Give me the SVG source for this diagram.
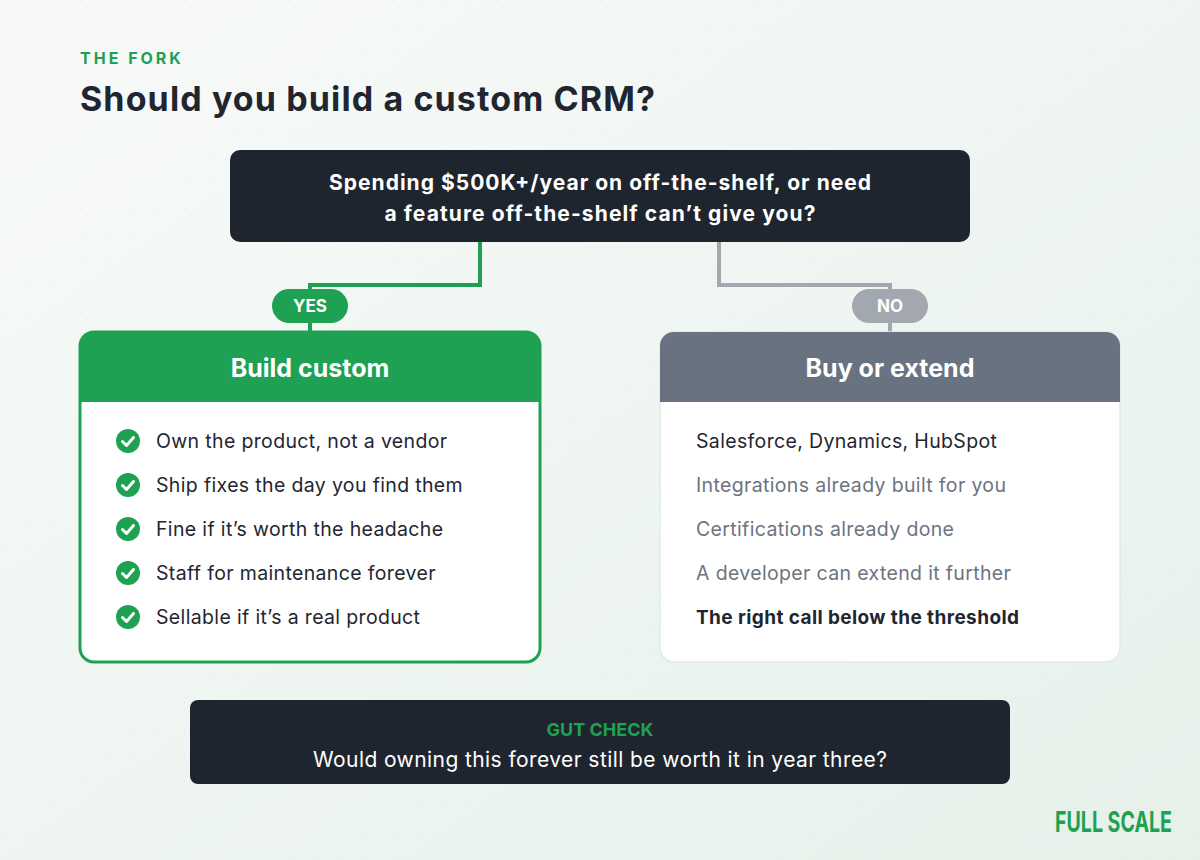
<svg xmlns="http://www.w3.org/2000/svg" width="1200" height="860" viewBox="0 0 1200 860">
<defs>
<linearGradient id="bg" x1="0" y1="0" x2="1" y2="1"><stop offset="0" stop-color="#f8faf9"/><stop offset="1" stop-color="#e6f1ea"/></linearGradient>
<pattern id="dots" x="2" y="0" width="26" height="26" patternUnits="userSpaceOnUse"><circle cx="0" cy="0" r="1.3" fill="#dde5e0"/></pattern>
<clipPath id="cl"><rect x="80" y="332" width="460" height="330" rx="14"/></clipPath>
<clipPath id="cr"><rect x="660" y="332" width="460" height="330" rx="14"/></clipPath>
<g id="chk"><circle r="12" fill="#1ea152"/><path d="M-5.5 0.5 L-1.5 4.5 L5.5 -3.5" fill="none" stroke="#fff" stroke-width="3" stroke-linecap="round" stroke-linejoin="round"/></g>
</defs>
<style>
text{font-family:Inter,"Open Sans","Liberation Sans",sans-serif}
.b{font-weight:700}
.item{font-size:19.5px;fill:#1f2630;letter-spacing:0.35px}
.grey{font-size:19.5px;fill:#6b7480;letter-spacing:0.35px}
</style>
<rect width="1200" height="860" fill="url(#bg)"/>
<rect width="1200" height="860" fill="url(#dots)"/>
<text x="80" y="64" class="b" font-size="16" letter-spacing="3" fill="#1ea152">THE FORK</text>
<text x="80" y="111" class="b" font-size="34" fill="#1f2630" textLength="575">Should you build a custom CRM?</text>
<g id="connectors" fill="none" stroke-width="4">
<path d="M480 242 V285 H310 V332" stroke="#1ea152"/>
<path d="M719 242 V285 H890 V332" stroke="#a3a8b0"/>
</g>
<g id="question">
<rect x="230" y="150" width="740" height="92" rx="10" fill="#1f252e"/>
<text x="600" y="190" text-anchor="middle" class="b" font-size="21" fill="#fff" textLength="542">Spending $500K+/year on off-the-shelf, or need</text>
<text x="600" y="221" text-anchor="middle" class="b" font-size="21" fill="#fff" textLength="431">a feature off-the-shelf can’t give you?</text>
</g>
<g id="yes">
<rect x="272" y="289" width="76" height="34" rx="17" fill="#1ea152"/>
<text x="310" y="312" text-anchor="middle" class="b" font-size="17" fill="#fff">YES</text>
</g>
<g id="no">
<rect x="852" y="289" width="76" height="34" rx="17" fill="#a3a8b0"/>
<text x="890" y="312" text-anchor="middle" class="b" font-size="17" fill="#fff">NO</text>
</g>
<g id="build">
<rect x="80" y="332" width="460" height="330" rx="14" fill="#fff"/>
<rect x="80" y="332" width="460" height="70" fill="#1ea152" clip-path="url(#cl)"/>
<rect x="80" y="332" width="460" height="330" rx="14" fill="none" stroke="#1ea152" stroke-width="3"/>
<text x="310" y="377" text-anchor="middle" class="b" font-size="25" fill="#fff">Build custom</text>
<use href="#chk" x="128" y="441"/><text x="156" y="448" class="item">Own the product, not a vendor</text>
<use href="#chk" x="128" y="485"/><text x="156" y="492" class="item">Ship fixes the day you find them</text>
<use href="#chk" x="128" y="529"/><text x="156" y="536" class="item">Fine if it’s worth the headache</text>
<use href="#chk" x="128" y="573"/><text x="156" y="580" class="item">Staff for maintenance forever</text>
<use href="#chk" x="128" y="617"/><text x="156" y="624" class="item">Sellable if it’s a real product</text>
</g>
<g id="buy">
<rect x="660" y="332" width="460" height="330" rx="14" fill="#fff" stroke="#e3e7ea" stroke-width="1.5"/>
<rect x="660" y="332" width="460" height="70" fill="#687280" clip-path="url(#cr)"/>
<text x="890" y="377" text-anchor="middle" class="b" font-size="25" fill="#fff">Buy or extend</text>
<text x="696" y="448" class="item">Salesforce, Dynamics, HubSpot</text>
<text x="696" y="492" class="grey">Integrations already built for you</text>
<text x="696" y="536" class="grey">Certifications already done</text>
<text x="696" y="580" class="grey">A developer can extend it further</text>
<text x="696" y="624" class="b" font-size="19" fill="#1f2630" textLength="323">The right call below the threshold</text>
</g>
<g id="gut">
<rect x="190" y="700" width="820" height="84" rx="8" fill="#1f252e"/>
<text x="600" y="736" text-anchor="middle" class="b" font-size="18" fill="#1ea152">GUT CHECK</text>
<text x="600" y="767" text-anchor="middle" font-size="21" fill="#fff" textLength="574">Would owning this forever still be worth it in year three?</text>
</g>
<text x="1172" y="832" text-anchor="end" font-family="'DejaVu Sans Condensed','Liberation Sans Narrow',sans-serif" font-weight="700" font-size="28" fill="#1ea152" transform="translate(1172 0) scale(0.7 1) translate(-1172 0)">FULL SCALE</text>
</svg>
